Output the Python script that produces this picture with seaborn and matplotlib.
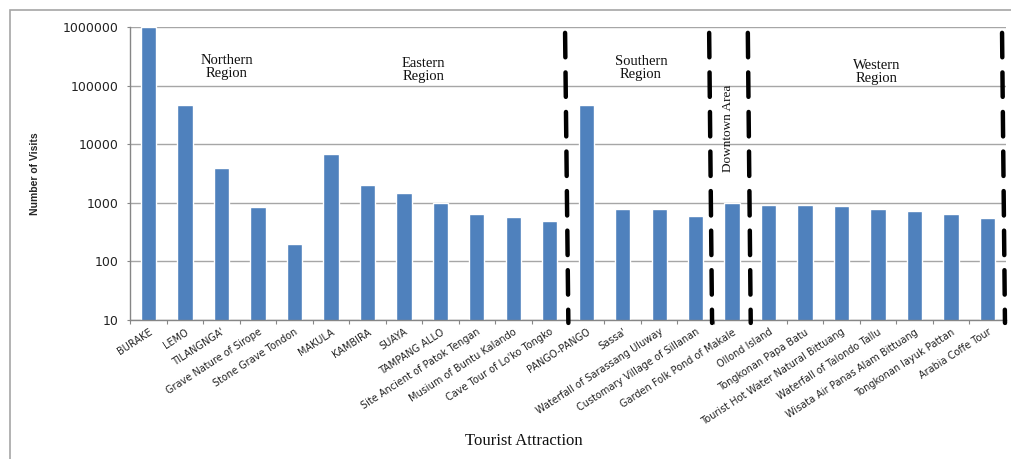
import matplotlib
matplotlib.use("Agg")
import matplotlib.pyplot as plt
import matplotlib.patches as mpatches
import matplotlib.transforms as mtrans
import seaborn as sns
import pandas as pd
import numpy as np

attractions = [
    "BURAKE", "LEMO", "TILANGNGA'", "Grave Nature of Sirope", "Stone Grave Tondon",
    "MAKULA", "KAMBIRA", "SUAYA", "TAMPANG ALLO", "Site Ancient of Patok Tengan",
    "Musium of Buntu Kalando", "Cave Tour of Lo'ko Tongko", "PANGO-PANGO", "Sassa'",
    "Waterfall of Sarassang Uluway", "Customary Village of Sillanan",
    "Garden Folk Pond of Makale", "Ollond Island", "Tongkonan Papa Batu",
    "Tourist Hot Water Natural Bittuang", "Waterfall of Talondo Tallu",
    "Wisata Air Panas Alam Bittuang", "Tongkonan layuk Pattan", "Arabia Coffe Tour",
]
visits = [
    1000000, 46000, 3900, 850, 200,
    6800, 2000, 1480, 1000, 645,
    575, 490, 46000, 780,
    780, 590,
    1000, 910, 910,
    890, 780,
    725, 645, 550,
]
region_labels = ["Northern\nRegion", "Eastern\nRegion", "Southern\nRegion", "Western\nRegion"]
region_label_x = [2.15, 7.53, 13.5, 19.97]
region_label_y = [0.863, 0.853, 0.86, 0.846]
downtown_label = "Downtown Area"
# separators: (x at top, x at bottom) in category units
separators = [(11.42, 11.51), (15.37, 15.45), (16.43, 16.51), (23.40, 23.48)]
y_ticks = [10, 100, 1000, 10000, 100000, 1000000]

df = pd.DataFrame({"attraction": attractions, "visits": visits})

sns.set_theme(style="white")
plt.rcParams["font.family"] = ["DejaVu Sans"]

fig = plt.figure(figsize=(10.11, 4.59), dpi=100)
ax = fig.add_axes([130.3 / 1011, 1 - 320 / 459, (1005.7 - 130.3) / 1011, (320 - 27) / 459])

sns.barplot(data=df, x="attraction", y="visits", order=attractions, color="#4F81BD",
            saturation=1, width=0.42, ax=ax)
ax.set_yscale("log")
ax.set_ylim(10, 1000000)
ax.set_xlim(-0.5, len(attractions) - 0.5)
ax.set_yticks(y_ticks)
ax.set_yticklabels([str(v) for v in y_ticks], fontsize=9, color="#222222")
ax.yaxis.set_minor_locator(matplotlib.ticker.NullLocator())
for v in y_ticks:
    ax.axhline(v, color="#A6A6A6", lw=1.0, zorder=0)

ax.set_xticks(range(len(attractions)))
ax.set_xticklabels(attractions, rotation=33, ha="right", rotation_mode="anchor",
                   fontsize=7, color="#222222")
ax.set_xticks(np.arange(-0.5, len(attractions), 1.0), minor=True)
ax.tick_params(axis="x", which="major", length=0, pad=5)
ax.tick_params(axis="x", which="minor", length=3, color="#868686", width=0.8, bottom=True)
ax.tick_params(axis="y", which="major", length=2.5, color="#868686", width=0.8, left=True, pad=6)

for s in ["top", "right"]:
    ax.spines[s].set_visible(False)
for s in ["left", "bottom"]:
    ax.spines[s].set_color("#868686")
    ax.spines[s].set_linewidth(1.0)

ax.set_xlabel("")
ax.set_ylabel("Number of Visits", fontsize=7.5, fontweight="bold",
              family=["Liberation Sans Narrow", "Liberation Sans", "DejaVu Sans"])
ax.yaxis.set_label_coords(-90 / 875.4, 0.5)

fig.text(524 / 1011, 1 - 441 / 459, "Tourist Attraction", ha="center", va="center",
         fontsize=12, family=["Liberation Serif", "DejaVu Serif"], color="#111111")

trans = mtrans.blended_transform_factory(ax.transData, ax.transAxes)
for lab, xx, yy in zip(region_labels, region_label_x, region_label_y):
    ax.text(xx, yy, lab, transform=trans, ha="center", va="center", fontsize=10.5,
            family=["Liberation Serif", "DejaVu Serif"], linespacing=1.05, color="#111111")
ax.text(15.89, 0.655, downtown_label, transform=trans, ha="center", va="center",
        rotation=90, fontsize=9.5, family=["Liberation Serif", "DejaVu Serif"], color="#111111")

for (xt, xb) in separators:
    ln, = ax.plot([xt, xb], [0.98, -0.01], transform=trans, color="black", lw=3.2,
                  solid_capstyle="round", dash_capstyle="round", clip_on=False, zorder=5)
    ln.set_dashes((5.5, 3.4))

fig.patches.append(mpatches.Rectangle((10 / 1011, -0.05), 1.2, 1 - 10 / 459 + 0.05,
                                      transform=fig.transFigure, fill=False,
                                      edgecolor="#A6A6A6", lw=1.2))

fig.savefig("out.png", dpi=100)
